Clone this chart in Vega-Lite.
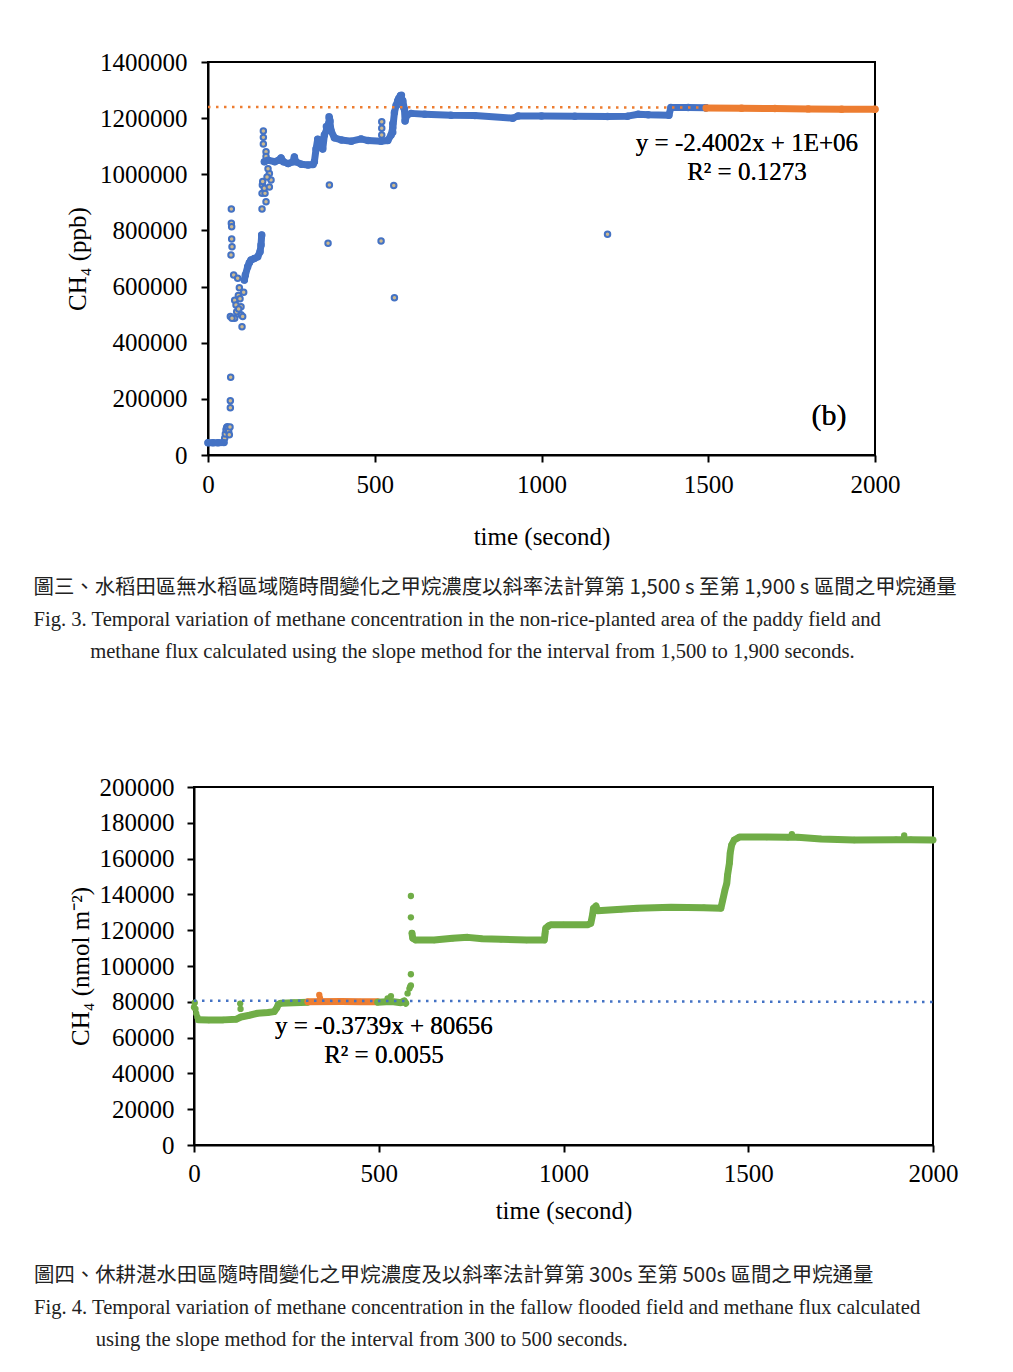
{
  "$schema": "https://vega.github.io/schema/vega-lite/v6.json",
  "background": "white",
  "padding": {"left": 33, "top": 50, "right": 5, "bottom": 5},
  "spacing": 111,
  "resolve": {"scale": {"color": "independent", "stroke": "independent"}},
  "config": {
    "font": "Liberation Serif",
    "view": {"stroke": "black", "strokeWidth": 2},
    "axis": {"domainColor": "black", "domainWidth": 2, "tickColor": "black", "tickWidth": 2, "tickSize": 7, "labelFont": "Liberation Serif", "labelFontSize": 25, "labelColor": "black", "labelFlush": false, "titleFont": "Liberation Serif", "titleFontSize": 25, "titleFontWeight": "normal", "titleColor": "black", "grid": false},
    "title": {"font": "Noto Sans CJK TC", "fontSize": 20.4, "fontWeight": "normal", "color": "#222", "subtitleFont": "Liberation Serif", "subtitleFontSize": 20.6, "subtitleColor": "#222", "subtitleLineHeight": 32, "subtitlePadding": 12, "orient": "bottom", "anchor": "start", "frame": "bounds"}
  },
  "datasets": {
    "d1": [
      {"t":0,"v":44000,"s":"a","g":1},{"t":15,"v":44000,"s":"a","g":1},{"t":30,"v":43500,"s":"a","g":1},{"t":48,"v":44500,"s":"a","g":1},
      {"t":50,"v":60000,"s":"a","g":0},{"t":52,"v":75000,"s":"a","g":0},{"t":54,"v":90000,"s":"a","g":0},{"t":56,"v":98000,"s":"a","g":0},{"t":58,"v":101000,"s":"a","g":0},{"t":60,"v":95000,"s":"a","g":0},{"t":62,"v":85000,"s":"a","g":0},{"t":64,"v":72000,"s":"a","g":0},{"t":66,"v":100000,"s":"a","g":0},
      {"t":67,"v":168600,"s":"a","g":0},{"t":67,"v":193500,"s":"a","g":0},{"t":68,"v":276600,"s":"a","g":0},
      {"t":70,"v":876300,"s":"a","g":0},{"t":70,"v":825200,"s":"a","g":0},{"t":71,"v":813300,"s":"a","g":0},{"t":71,"v":769400,"s":"a","g":0},{"t":72,"v":742000,"s":"a","g":0},{"t":69,"v":712400,"s":"a","g":0},
      {"t":77,"v":641200,"s":"a","g":0},{"t":89,"v":630000,"s":"a","g":0},{"t":94,"v":596000,"s":"a","g":0},{"t":80,"v":551000,"s":"a","g":0},{"t":84,"v":534000,"s":"a","g":0},{"t":91,"v":568000,"s":"a","g":0},{"t":96,"v":557000,"s":"a","g":0},{"t":99,"v":528000,"s":"a","g":0},{"t":99,"v":500000,"s":"a","g":0},{"t":67,"v":493000,"s":"a","g":0},{"t":80,"v":487000,"s":"a","g":0},{"t":104,"v":493000,"s":"a","g":0},{"t":102,"v":457000,"s":"a","g":0},{"t":107,"v":580000,"s":"a","g":0},{"t":72,"v":487000,"s":"a","g":0},{"t":86,"v":510000,"s":"a","g":0},{"t":92,"v":520000,"s":"a","g":0},
      {"t":109,"v":623000,"s":"a","g":2},{"t":112,"v":641000,"s":"a","g":2},{"t":119,"v":671000,"s":"a","g":2},{"t":124,"v":685000,"s":"a","g":2},{"t":129,"v":695000,"s":"a","g":2},{"t":139,"v":700000,"s":"a","g":2},{"t":149,"v":706000,"s":"a","g":2},{"t":156,"v":724000,"s":"a","g":2},{"t":159,"v":748000,"s":"a","g":2},{"t":161,"v":784000,"s":"a","g":2},
      {"t":162,"v":876000,"s":"a","g":0},{"t":162,"v":932000,"s":"a","g":0},{"t":163,"v":962000,"s":"a","g":0},{"t":164,"v":974000,"s":"a","g":0},{"t":169,"v":950000,"s":"a","g":0},{"t":171,"v":932000,"s":"a","g":0},{"t":174,"v":902000,"s":"a","g":0},{"t":184,"v":1003000,"s":"a","g":0},{"t":184,"v":955000,"s":"a","g":0},{"t":189,"v":980000,"s":"a","g":0},{"t":166,"v":1154000,"s":"a","g":0},{"t":166,"v":1131500,"s":"a","g":0},{"t":166,"v":1107800,"s":"a","g":0},{"t":174,"v":1080000,"s":"a","g":0},{"t":174,"v":1063000,"s":"a","g":0},{"t":180,"v":1020000,"s":"a","g":0},{"t":177,"v":990000,"s":"a","g":0},
      {"t":169,"v":1045000,"s":"a","g":3},{"t":180,"v":1050000,"s":"a","g":3},{"t":200,"v":1045000,"s":"a","g":3},{"t":212,"v":1050000,"s":"a","g":3},{"t":219,"v":1058000,"s":"a","g":3},{"t":226,"v":1045000,"s":"a","g":3},{"t":240,"v":1038000,"s":"a","g":3},{"t":255,"v":1045000,"s":"a","g":3},{"t":259,"v":1062000,"s":"a","g":3},{"t":263,"v":1045000,"s":"a","g":3},{"t":280,"v":1036000,"s":"a","g":3},{"t":300,"v":1033000,"s":"a","g":3},{"t":315,"v":1035000,"s":"a","g":3},{"t":319,"v":1045000,"s":"a","g":3},{"t":324,"v":1090000,"s":"a","g":3},{"t":329,"v":1125000,"s":"a","g":3},{"t":334,"v":1122000,"s":"a","g":3},{"t":339,"v":1105000,"s":"a","g":3},{"t":344,"v":1090000,"s":"a","g":3},{"t":349,"v":1140000,"s":"a","g":3},{"t":356,"v":1160000,"s":"a","g":3},{"t":362,"v":1180000,"s":"a","g":3},{"t":364,"v":1200000,"s":"a","g":3},{"t":369,"v":1155000,"s":"a","g":3},{"t":379,"v":1130000,"s":"a","g":3},{"t":400,"v":1122000,"s":"a","g":3},{"t":430,"v":1118000,"s":"a","g":3},{"t":459,"v":1126000,"s":"a","g":3},{"t":480,"v":1120000,"s":"a","g":3},{"t":519,"v":1118000,"s":"a","g":3},{"t":539,"v":1120000,"s":"a","g":3},{"t":549,"v":1140000,"s":"a","g":3},{"t":554,"v":1165000,"s":"a","g":3},{"t":559,"v":1220000,"s":"a","g":3},{"t":564,"v":1245000,"s":"a","g":3},{"t":569,"v":1262000,"s":"a","g":3},{"t":577,"v":1280000,"s":"a","g":3},{"t":584,"v":1262000,"s":"a","g":3},{"t":589,"v":1232000,"s":"a","g":3},{"t":591,"v":1190000,"s":"a","g":3},{"t":596,"v":1210000,"s":"a","g":3},{"t":609,"v":1217000,"s":"a","g":3},{"t":650,"v":1214000,"s":"a","g":3},{"t":729,"v":1210000,"s":"a","g":3},{"t":800,"v":1209000,"s":"a","g":3},{"t":914,"v":1200000,"s":"a","g":3},{"t":930,"v":1208000,"s":"a","g":3},{"t":1000,"v":1208000,"s":"a","g":3},{"t":1100,"v":1207000,"s":"a","g":3},{"t":1198,"v":1206000,"s":"a","g":3},{"t":1258,"v":1207000,"s":"a","g":3},{"t":1290,"v":1214000,"s":"a","g":3},{"t":1320,"v":1212000,"s":"a","g":3},{"t":1382,"v":1210000,"s":"a","g":3},{"t":1388,"v":1238000,"s":"a","g":3},{"t":1440,"v":1238000,"s":"a","g":3},{"t":1493,"v":1237000,"s":"a","g":3},
      {"t":364,"v":961700,"s":"a","g":0},{"t":360,"v":754000,"s":"a","g":0},{"t":363,"v":1205000,"s":"a","g":0},{"t":366,"v":1190000,"s":"a","g":0},{"t":355,"v":1170000,"s":"a","g":0},{"t":521,"v":1187000,"s":"a","g":0},{"t":521,"v":1164000,"s":"a","g":0},{"t":521,"v":1140000,"s":"a","g":0},{"t":519,"v":762000,"s":"a","g":0},{"t":554,"v":1180000,"s":"a","g":0},{"t":554,"v":1150000,"s":"a","g":0},{"t":557,"v":960000,"s":"a","g":0},{"t":559,"v":560000,"s":"a","g":0},{"t":1198,"v":786000,"s":"a","g":0},{"t":572,"v":1270000,"s":"a","g":0},{"t":580,"v":1282000,"s":"a","g":0},{"t":575,"v":1250000,"s":"a","g":0},{"t":586,"v":1240000,"s":"a","g":0},
      {"t":1493,"v":1236000,"s":"b","g":4},{"t":1600,"v":1235000,"s":"b","g":4},{"t":1700,"v":1234000,"s":"b","g":4},{"t":1800,"v":1233000,"s":"b","g":4},{"t":1900,"v":1232000,"s":"b","g":4},{"t":2000,"v":1231500,"s":"b","g":4}
    ],
    "t1": [{"t":0,"v":1239500},{"t":2000,"v":1237500}],
    "d2": [
      {"t":0,"v":77000,"s":"a","g":0},{"t":2,"v":79500,"s":"a","g":0},{"t":4,"v":76000,"s":"a","g":0},{"t":6,"v":73500,"s":"a","g":0},{"t":9,"v":71500,"s":"a","g":0},{"t":125,"v":79000,"s":"a","g":0},{"t":126,"v":76000,"s":"a","g":0},
      {"t":12,"v":70000,"s":"a","g":1},{"t":40,"v":69800,"s":"a","g":1},{"t":80,"v":69900,"s":"a","g":1},{"t":115,"v":70300,"s":"a","g":1},{"t":127,"v":71500,"s":"a","g":1},{"t":150,"v":72500,"s":"a","g":1},{"t":172,"v":73600,"s":"a","g":1},{"t":200,"v":74000,"s":"a","g":1},{"t":217,"v":74500,"s":"a","g":1},{"t":224,"v":76500,"s":"a","g":1},{"t":228,"v":78500,"s":"a","g":1},{"t":235,"v":79200,"s":"a","g":1},{"t":270,"v":79500,"s":"a","g":1},{"t":308,"v":79800,"s":"a","g":1},
      {"t":308,"v":80000,"s":"b","g":2},{"t":400,"v":80100,"s":"b","g":2},{"t":450,"v":80000,"s":"b","g":2},{"t":497,"v":80000,"s":"b","g":2},
      {"t":339,"v":83800,"s":"b","g":0},{"t":341,"v":82000,"s":"b","g":0},
      {"t":497,"v":79800,"s":"a","g":3},{"t":520,"v":80000,"s":"a","g":3},{"t":540,"v":80000,"s":"a","g":3},{"t":560,"v":79500,"s":"a","g":3},{"t":569,"v":80500,"s":"a","g":3},{"t":573,"v":79200,"s":"a","g":3},
      {"t":524,"v":81900,"s":"a","g":0},{"t":533,"v":83200,"s":"a","g":0},{"t":578,"v":84700,"s":"a","g":0},{"t":583,"v":87400,"s":"a","g":0},{"t":585,"v":88500,"s":"a","g":0},{"t":587,"v":89100,"s":"a","g":0},{"t":587,"v":95400,"s":"a","g":0},{"t":587,"v":127200,"s":"a","g":0},{"t":587,"v":139100,"s":"a","g":0},
      {"t":590,"v":118300,"s":"a","g":4},{"t":592,"v":115500,"s":"a","g":4},{"t":600,"v":114500,"s":"a","g":4},{"t":650,"v":114500,"s":"a","g":4},{"t":700,"v":115500,"s":"a","g":4},{"t":741,"v":116000,"s":"a","g":4},{"t":780,"v":115200,"s":"a","g":4},{"t":831,"v":114900,"s":"a","g":4},{"t":900,"v":114500,"s":"a","g":4},{"t":948,"v":114500,"s":"a","g":4},{"t":950,"v":118000,"s":"a","g":4},{"t":952,"v":121100,"s":"a","g":4},{"t":960,"v":122500,"s":"a","g":4},{"t":966,"v":123000,"s":"a","g":4},{"t":1000,"v":123000,"s":"a","g":4},{"t":1065,"v":123000,"s":"a","g":4},{"t":1074,"v":123800,"s":"a","g":4},{"t":1079,"v":129000,"s":"a","g":4},{"t":1081,"v":132200,"s":"a","g":4},{"t":1088,"v":133500,"s":"a","g":4},{"t":1092,"v":130900,"s":"a","g":4},{"t":1156,"v":131700,"s":"a","g":4},{"t":1200,"v":132200,"s":"a","g":4},{"t":1291,"v":132800,"s":"a","g":4},{"t":1380,"v":132600,"s":"a","g":4},{"t":1426,"v":132200,"s":"a","g":4},{"t":1431,"v":136900,"s":"a","g":4},{"t":1437,"v":142500,"s":"a","g":4},{"t":1442,"v":146200,"s":"a","g":4},{"t":1444,"v":150800,"s":"a","g":4},{"t":1449,"v":157400,"s":"a","g":4},{"t":1451,"v":163000,"s":"a","g":4},{"t":1455,"v":167600,"s":"a","g":4},{"t":1462,"v":170400,"s":"a","g":4},{"t":1476,"v":172000,"s":"a","g":4},{"t":1550,"v":172000,"s":"a","g":4},{"t":1607,"v":171900,"s":"a","g":4},{"t":1634,"v":171900,"s":"a","g":4},{"t":1697,"v":171000,"s":"a","g":4},{"t":1787,"v":170400,"s":"a","g":4},{"t":1900,"v":170600,"s":"a","g":4},{"t":1940,"v":170600,"s":"a","g":4},{"t":2000,"v":170400,"s":"a","g":4},
      {"t":1618,"v":173700,"s":"a","g":0},{"t":1922,"v":172900,"s":"a","g":0}
    ],
    "t2": [{"t":0,"v":80656},{"t":2000,"v":79908}]
  },
  "vconcat": [
    {
      "width": 681,
      "height": 393,
      "view": {"stroke": null},
      "title": {
        "text": "圖三、水稻田區無水稻區域隨時間變化之甲烷濃度以斜率法計算第 1,500 s 至第 1,900 s 區間之甲烷通量",
        "subtitle": ["Fig. 3. Temporal variation of methane concentration in the non-rice-planted area of the paddy field and", "\u200b\u00a0\u00a0\u00a0\u00a0\u00a0\u00a0\u00a0\u00a0\u00a0\u00a0\u00a0methane flux calculated using the slope method for the interval from 1,500 to 1,900 seconds."],
        "offset": 29,
        "dx": -32
      },
      "encoding": {
        "x": {"field": "t", "type": "quantitative", "scale": {"domain": [0, 2000], "nice": false, "range": [14, 681]}, "axis": {"values": [0, 500, 1000, 1500, 2000], "format": "d", "title": "time (second)", "labelPadding": 10, "titlePadding": 27}},
        "y": {"field": "v", "type": "quantitative", "scale": {"domain": [0, 1400000], "nice": false}, "axis": {"values": [0, 200000, 400000, 600000, 800000, 1000000, 1200000, 1400000], "format": "d", "title": "CH₄  (ppb)", "labelPadding": 14, "titlePadding": 9, "offset": -14}}
      },
      "layer": [
        {
          "data": {"name": "t1"},
          "mark": {"type": "rect", "filled": false, "color": "black", "strokeWidth": 2},
          "encoding": {"x": {"datum": 0}, "x2": {"datum": 2000}, "y": {"datum": 0}, "y2": {"datum": 1400000}}
        },
        {
          "data": {"name": "d1"},
          "mark": {"type": "point", "shape": "circle", "filled": true, "fill": "#cdb98f", "strokeWidth": 2, "size": 30, "opacity": 1},
          "encoding": {"stroke": {"field": "s", "type": "nominal", "scale": {"domain": ["a", "b"], "range": ["#4472C4", "#ED7D31"]}, "legend": null}}
        },
        {
          "data": {"name": "d1"},
          "transform": [{"filter": "datum.g > 0"}],
          "mark": {"type": "line", "strokeWidth": 7, "strokeCap": "round", "strokeJoin": "round"},
          "encoding": {"color": {"field": "s", "type": "nominal", "scale": {"domain": ["a", "b"], "range": ["#4472C4", "#ED7D31"]}, "legend": null}, "detail": {"field": "g"}, "order": {"field": "t"}}
        },
        {
          "data": {"name": "t1"},
          "mark": {"type": "line", "color": "#ED7D31", "strokeWidth": 2.5, "strokeDash": [2.5, 5.5]},
          "encoding": {}
        },
        {
          "data": {"name": "t1"},
          "mark": {"type": "text", "font": "Liberation Serif", "fontSize": 25, "color": "black", "align": "center", "baseline": "middle"},
          "encoding": {"x": {"datum": 1616}, "y": {"datum": 1111000}, "text": {"value": "y = -2.4002x + 1E+06"}}
        },
        {
          "data": {"name": "t1"},
          "mark": {"type": "text", "font": "Liberation Serif", "fontSize": 25, "color": "black", "align": "center", "baseline": "middle"},
          "encoding": {"x": {"datum": 1616}, "y": {"datum": 1008000}, "text": {"value": "R² = 0.1273"}}
        },
        {
          "data": {"name": "t1"},
          "mark": {"type": "text", "font": "Liberation Serif", "fontSize": 30, "color": "black", "align": "center", "baseline": "middle"},
          "encoding": {"x": {"datum": 1862}, "y": {"datum": 139000}, "text": {"value": "(b)"}}
        }
      ]
    },
    {
      "width": 739,
      "height": 358,
      "title": {
        "text": "圖四、休耕湛水田區隨時間變化之甲烷濃度及以斜率法計算第 300s 至第 500s 區間之甲烷通量",
        "subtitle": ["Fig. 4. Temporal variation of methane concentration in the fallow flooded field and methane flux calculated", "\u200b\u00a0\u00a0\u00a0\u00a0\u00a0\u00a0\u00a0\u00a0\u00a0\u00a0\u00a0\u00a0using the slope method for the interval from 300 to 500 seconds."],
        "offset": 43,
        "dx": -34
      },
      "encoding": {
        "x": {"field": "t", "type": "quantitative", "scale": {"domain": [0, 2000], "nice": false}, "axis": {"values": [0, 500, 1000, 1500, 2000], "format": "d", "title": "time (second)", "labelPadding": 9, "titlePadding": 12}},
        "y": {"field": "v", "type": "quantitative", "scale": {"domain": [0, 200000], "nice": false}, "axis": {"values": [0, 20000, 40000, 60000, 80000, 100000, 120000, 140000, 160000, 180000, 200000], "format": "d", "title": "CH₄ (nmol m⁻²)", "labelPadding": 13, "titlePadding": 6}}
      },
      "layer": [
        {
          "data": {"name": "d2"},
          "mark": {"type": "point", "shape": "circle", "filled": true, "size": 40, "opacity": 1},
          "encoding": {"color": {"field": "s", "type": "nominal", "scale": {"domain": ["a", "b"], "range": ["#70AD47", "#ED7D31"]}, "legend": null}}
        },
        {
          "data": {"name": "d2"},
          "transform": [{"filter": "datum.g > 0"}],
          "mark": {"type": "line", "strokeWidth": 7, "strokeCap": "round", "strokeJoin": "round"},
          "encoding": {"color": {"field": "s", "type": "nominal", "scale": {"domain": ["a", "b"], "range": ["#70AD47", "#ED7D31"]}, "legend": null}, "detail": {"field": "g"}, "order": {"field": "t"}}
        },
        {
          "data": {"name": "t2"},
          "mark": {"type": "line", "color": "#4472C4", "strokeWidth": 2.5, "strokeDash": [2.5, 5.5]},
          "encoding": {}
        },
        {
          "data": {"name": "t2"},
          "mark": {"type": "text", "font": "Liberation Serif", "fontSize": 25, "color": "black", "align": "center", "baseline": "middle"},
          "encoding": {"x": {"datum": 514}, "y": {"datum": 66500}, "text": {"value": "y = -0.3739x + 80656"}}
        },
        {
          "data": {"name": "t2"},
          "mark": {"type": "text", "font": "Liberation Serif", "fontSize": 25, "color": "black", "align": "center", "baseline": "middle"},
          "encoding": {"x": {"datum": 514}, "y": {"datum": 50300}, "text": {"value": "R² = 0.0055"}}
        }
      ]
    }
  ]
}
